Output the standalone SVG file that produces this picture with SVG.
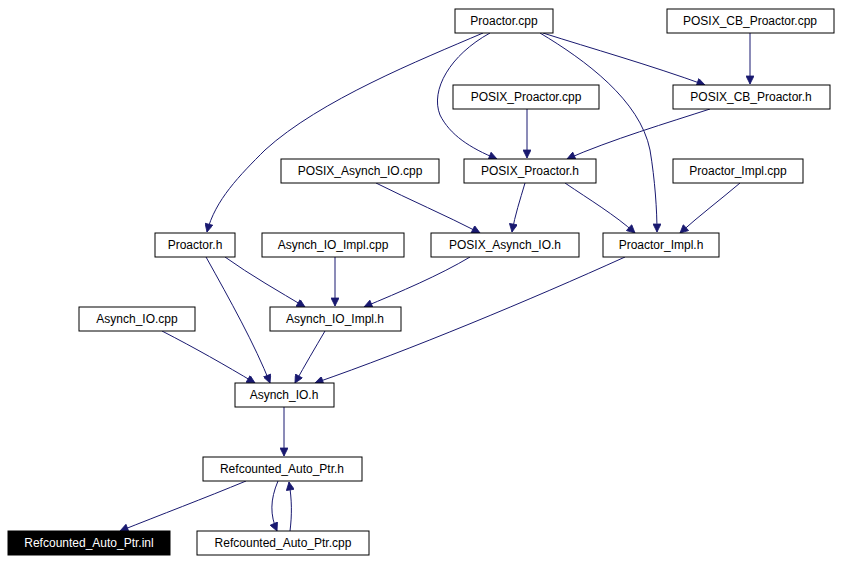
<svg xmlns="http://www.w3.org/2000/svg" width="843" height="563" viewBox="0 0 843 563">
<style>
.n rect{fill:#fff;stroke:#000;stroke-width:1}
.n text{font-family:"Liberation Sans",Arial,sans-serif;font-size:12px;text-anchor:middle}
.e path{fill:none;stroke:#191970;stroke-width:1;marker-end:url(#a)}
</style>
<defs><marker id="a" viewBox="0 0 10 10" refX="10" refY="5" markerWidth="10" markerHeight="8" orient="auto" markerUnits="userSpaceOnUse"><path d="M0,0L10,5L0,10z" fill="#191970" stroke="#191970"/></marker></defs>
<rect width="843" height="563" fill="#fff"/>
<g class="e">
<path d="M483,33C420,60 320,100 265,150C240,175 215,200 207,232"/>
<path d="M490,33C450,55 430,90 440,115C450,135 470,148 497,159"/>
<path d="M540,33C585,60 640,100 650,150C655,180 657,210 657,232"/>
<path d="M543,33C590,48 650,65 705,85"/>
<path d="M750,33L750,84"/>
<path d="M527,109L527,158"/>
<path d="M710,109C670,122 610,140 567,159"/>
<path d="M376,183C410,200 445,215 480,233"/>
<path d="M525,183C520,200 515,215 512,232"/>
<path d="M565,183C590,200 615,215 635,233"/>
<path d="M740,183C720,200 700,215 680,233"/>
<path d="M225,257C250,275 280,292 305,307"/>
<path d="M206,257C230,300 255,345 270,383"/>
<path d="M335,257L335,306"/>
<path d="M470,257C440,275 400,292 364,307"/>
<path d="M625,257C530,300 410,350 315,383"/>
<path d="M162,331C195,348 225,365 255,383"/>
<path d="M325,331C315,348 305,365 295,383"/>
<path d="M284,407L284,456"/>
<path d="M246,481C205,498 160,515 120,531"/>
<path d="M278,481C270,500 270,515 277,531"/>
<path d="M290,531C292,515 292,500 289,482"/>
</g>
<g class="n" id="proactor_cpp"><rect x="455" y="9" width="98" height="24"/><text x="504" y="25">Proactor.cpp</text></g>
<g class="n" id="posix_cb_proactor_cpp"><rect x="667" y="9" width="167" height="24"/><text x="750" y="25">POSIX_CB_Proactor.cpp</text></g>
<g class="n" id="posix_proactor_cpp"><rect x="453" y="85" width="146" height="24"/><text x="526" y="101">POSIX_Proactor.cpp</text></g>
<g class="n" id="posix_cb_proactor_h"><rect x="673" y="85" width="157" height="24"/><text x="751" y="101">POSIX_CB_Proactor.h</text></g>
<g class="n" id="posix_asynch_io_cpp"><rect x="281" y="159" width="158" height="24"/><text x="360" y="175">POSIX_Asynch_IO.cpp</text></g>
<g class="n" id="posix_proactor_h"><rect x="464" y="159" width="132" height="24"/><text x="530" y="175">POSIX_Proactor.h</text></g>
<g class="n" id="proactor_impl_cpp"><rect x="673" y="159" width="130" height="24"/><text x="738" y="175">Proactor_Impl.cpp</text></g>
<g class="n" id="proactor_h"><rect x="155" y="233" width="80" height="24"/><text x="195" y="249">Proactor.h</text></g>
<g class="n" id="asynch_io_impl_cpp"><rect x="262" y="233" width="142" height="24"/><text x="333" y="249">Asynch_IO_Impl.cpp</text></g>
<g class="n" id="posix_asynch_io_h"><rect x="431" y="233" width="148" height="24"/><text x="505" y="249">POSIX_Asynch_IO.h</text></g>
<g class="n" id="proactor_impl_h"><rect x="603" y="233" width="116" height="24"/><text x="661" y="249">Proactor_Impl.h</text></g>
<g class="n" id="asynch_io_cpp"><rect x="79" y="307" width="116" height="24"/><text x="137" y="323">Asynch_IO.cpp</text></g>
<g class="n" id="asynch_io_impl_h"><rect x="270" y="307" width="131" height="24"/><text x="335" y="323">Asynch_IO_Impl.h</text></g>
<g class="n" id="asynch_io_h"><rect x="235" y="383" width="99" height="24"/><text x="284" y="399">Asynch_IO.h</text></g>
<g class="n" id="refcounted_auto_ptr_h"><rect x="203" y="457" width="159" height="24"/><text x="282" y="473">Refcounted_Auto_Ptr.h</text></g>
<g class="n" id="refcounted_auto_ptr_inl"><rect x="8" y="531" width="162" height="24" style="fill:#000"/><text x="89" y="547" style="fill:#fff">Refcounted_Auto_Ptr.inl</text></g>
<g class="n" id="refcounted_auto_ptr_cpp"><rect x="197" y="531" width="172" height="24"/><text x="283" y="547">Refcounted_Auto_Ptr.cpp</text></g>
</svg>
